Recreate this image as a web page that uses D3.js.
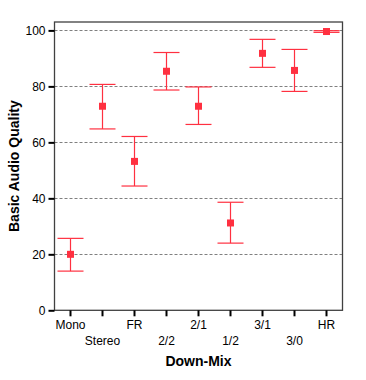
<!DOCTYPE html>
<html>
<head>
<meta charset="utf-8">
<script src="https://cdn.jsdelivr.net/npm/d3@7"></script>
<style>
  body { margin: 0; background: #fff; }
  svg { display: block; }
  text { font-family: Arial, "Liberation Sans", sans-serif; }
</style>
</head>
<body>
<div id="chart"></div>
<script>
// Down-mix conditions and their scores (mean with 95% CI)
const categories = ['Mono', 'Stereo', 'FR', '2/2', '2/1', '1/2', '3/1', '3/0', 'HR'];
const means = [20.0, 72.9, 53.2, 85.4, 72.9, 31.2, 91.8, 85.7, 99.6];
const upper = [25.7, 80.7, 62.1, 92.1, 79.8, 38.6, 96.8, 93.2, 99.9];
const lower = [14.0, 64.8, 44.4, 78.7, 66.4, 24.0, 86.8, 78.2, 99.3];
const yTicks = [0, 20, 40, 60, 80, 100];

const width = 366, height = 380;
const margin = { top: 22, right: 23.5, bottom: 70, left: 54.5 };

const svg = d3.select('#chart').append('svg')
    .attr('width', width)
    .attr('height', height);

const x = d3.scaleBand()
    .domain(categories)
    .range([margin.left, width - margin.right])
    .padding(0);

const y = d3.scaleLinear()
    .domain([0, 103])
    .range([height - margin.bottom + 0.3, margin.top]);

const red = '#ff3040';

// Gridlines
svg.append('g')
    .selectAll('line')
    .data(yTicks.filter(d => d > 0))
    .enter()
    .append('line')
    .attr('x1', margin.left)
    .attr('x2', width - margin.right)
    .attr('y1', d => Math.round(y(d)) + 0.5)
    .attr('y2', d => Math.round(y(d)) + 0.5)
    .attr('stroke', '#808080')
    .attr('stroke-dasharray', '3,2');

// Frame
svg.append('rect')
    .attr('x', margin.left)
    .attr('y', margin.top)
    .attr('width', width - margin.right - margin.left)
    .attr('height', y(0) - margin.top)
    .attr('fill', 'none')
    .attr('stroke', '#404040')
    .attr('stroke-width', 1.3);

// Y axis
const yAxis = svg.append('g')
    .attr('transform', `translate(${margin.left},0)`)
    .call(d3.axisLeft(y).tickValues(yTicks).tickSize(6).tickPadding(3));
yAxis.select('.domain').remove();
yAxis.selectAll('.tick line').attr('stroke', '#000').attr('stroke-width', 2);
yAxis.selectAll('.tick text')
    .attr('fill', '#000')
    .style('font-size', '12px')
    .style('font-family', 'Arial, "Liberation Sans", sans-serif');

// X axis (staggered labels)
const xAxis = svg.append('g')
    .attr('transform', `translate(0,${y(0)})`)
    .call(d3.axisBottom(x).tickSize(6).tickPadding(0));
xAxis.select('.domain').remove();
xAxis.selectAll('.tick line').attr('stroke', '#000').attr('stroke-width', 2);
xAxis.selectAll('.tick text')
    .attr('fill', '#000')
    .attr('y', (d, i) => i % 2 === 0 ? 10 : 26)
    .attr('dy', '0.71em')
    .style('font-size', '12px')
    .style('font-family', 'Arial, "Liberation Sans", sans-serif');

// Error bars
const rows = categories.map((c, i) => ({ cat: c, mean: means[i], hi: upper[i], lo: lower[i] }));
const cap = 13;

const bars = svg.append('g')
    .selectAll('g')
    .data(rows)
    .enter()
    .append('g')
    .attr('stroke', red)
    .attr('stroke-width', 1.2);

bars.append('line')
    .attr('x1', d => x(d.cat) + x.bandwidth() / 2)
    .attr('x2', d => x(d.cat) + x.bandwidth() / 2)
    .attr('y1', d => y(d.hi))
    .attr('y2', d => y(d.lo));

bars.append('line')
    .attr('x1', d => x(d.cat) + x.bandwidth() / 2 - cap)
    .attr('x2', d => x(d.cat) + x.bandwidth() / 2 + cap)
    .attr('y1', d => y(d.hi))
    .attr('y2', d => y(d.hi));

bars.append('line')
    .attr('x1', d => x(d.cat) + x.bandwidth() / 2 - cap)
    .attr('x2', d => x(d.cat) + x.bandwidth() / 2 + cap)
    .attr('y1', d => y(d.lo))
    .attr('y2', d => y(d.lo));

// Mean markers
svg.append('g')
    .selectAll('rect')
    .data(rows)
    .enter()
    .append('rect')
    .attr('x', d => x(d.cat) + x.bandwidth() / 2 - 3.5)
    .attr('y', d => y(d.mean) - 3.5)
    .attr('width', 7)
    .attr('height', 7)
    .attr('fill', red);

// Axis titles
svg.append('text')
    .attr('x', (margin.left + width - margin.right) / 2)
    .attr('y', 366)
    .attr('text-anchor', 'middle')
    .style('font-size', '14px')
    .style('font-weight', 'bold')
    .text('Down-Mix');

svg.append('text')
    .attr('transform', `translate(19,${(margin.top + y(0)) / 2}) rotate(-90)`)
    .attr('text-anchor', 'middle')
    .style('font-size', '14px')
    .style('font-weight', 'bold')
    .text('Basic Audio Quality');
</script>
</body>
</html>
